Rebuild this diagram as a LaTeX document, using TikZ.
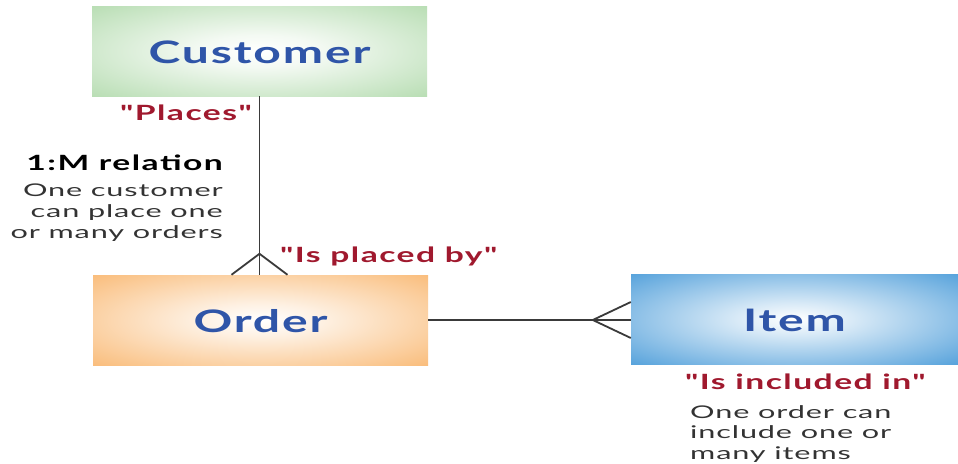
\documentclass[tikz,border=0pt]{standalone}
\usepackage{fontspec}
\newfontfamily\regfont[FakeStretch=1.75, LetterSpace=5]{Lato}
\newfontfamily\titlefont[FakeStretch=1.55, LetterSpace=6]{Lato}
\newfontfamily\verbfont[FakeStretch=1.6, LetterSpace=7]{Lato}
\definecolor{cgreen}{HTML}{B3DBAE}
\definecolor{corange}{HTML}{F9B872}
\definecolor{cblue}{HTML}{4B9CD9}
\definecolor{ctitle}{HTML}{2F55A8}
\definecolor{cred}{HTML}{A0192E}
\definecolor{ctext}{HTML}{333333}
\definecolor{cline}{HTML}{3A3A3A}
\pgfdeclareradialshading{greenglow}{\pgfpoint{0bp}{0bp}}{color(0bp)=(white); color(9bp)=(white!85!cgreen); color(38bp)=(cgreen); color(50bp)=(cgreen)}
\pgfdeclareradialshading{orangeglow}{\pgfpoint{0bp}{0bp}}{color(0bp)=(white); color(9bp)=(white!80!corange); color(38bp)=(corange); color(50bp)=(corange)}
\pgfdeclareradialshading{blueglow}{\pgfpoint{0bp}{0bp}}{color(0bp)=(white); color(9bp)=(white!78!cblue); color(38bp)=(cblue); color(50bp)=(cblue)}
\tikzset{
  entity/.style={minimum height=90pt, inner sep=0pt, text=ctitle,
    text height=25pt, text depth=-3pt,
    font=\titlefont\bfseries\fontsize{31}{36}\selectfont},
  rel/.style={draw=cline, line width=1.8pt},
  verb/.style={text=cred, inner sep=0pt, font=\verbfont\bfseries\fontsize{21}{25}\selectfont},
  note/.style={text=ctext, inner sep=0pt, font=\regfont\fontsize{17.5}{20.7}\selectfont},
  heading/.style={text=black, inner sep=0pt, font=\verbfont\bfseries\fontsize{21}{25}\selectfont}
}
\begin{document}
\begin{tikzpicture}[x=1pt,y=-1pt]
\useasboundingbox[fill=white] (0,0) rectangle (958,463);
\node[entity, shading=greenglow, minimum width=335pt] (cust) at (259.5,51) {Customer};
\node[entity, shading=orangeglow, minimum width=335pt] (order) at (260.5,320) {Order};
\node[entity, shading=blueglow, minimum width=327pt] (item) at (794.5,319) {Item};
% Customer -- Order (one to many)
\coordinate (ordtop) at (cust.south |- order.north);
\coordinate (apex1) at ([yshift=21pt]ordtop);
\draw[rel] (cust.south) -- (ordtop);
\draw[rel] ([xshift=-28pt]ordtop) -- (apex1) -- ([xshift=28pt]ordtop);
% Order -- Item (one to many)
\coordinate (itemleft) at (item.west |- order.east);
\coordinate (apex2) at ([xshift=-38pt]itemleft);
\draw[rel] (order.east) -- (itemleft);
\draw[rel] ([yshift=-18pt]itemleft) -- (apex2) -- ([yshift=18pt]itemleft);
% labels
\node[verb, anchor=east] (places) at (252,113) {"Places"};
\node[heading, anchor=east] (onem) at (223,163) {1:M relation};
\node[note, anchor=north east, align=right] (custnote) at (223,184) {One customer\\can place one\\or many orders};
\node[verb, anchor=west] (placedby) at (280,256) {"Is placed by"};
\node[verb, anchor=west] (included) at (685,382) {"Is included in"};
\node[note, anchor=north west, align=left] (ordnote) at (690,405) {One order can\\include one or\\many items};
\end{tikzpicture}
\end{document}
